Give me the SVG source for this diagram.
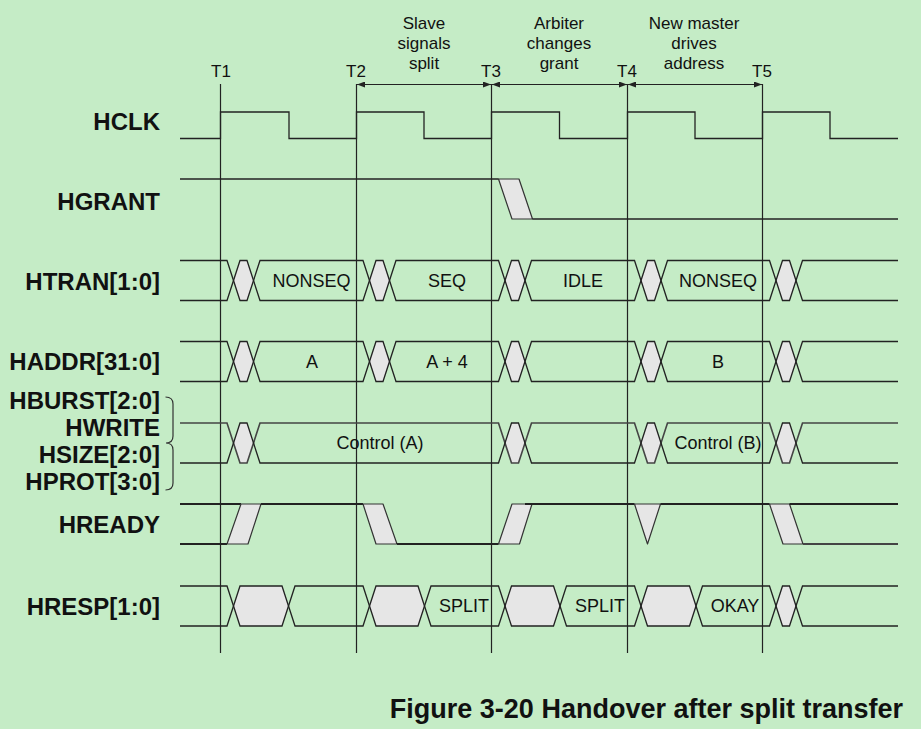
<svg xmlns="http://www.w3.org/2000/svg" width="921" height="729" viewBox="0 0 921 729">
<defs>
<marker id="ah" viewBox="0 0 8 6" refX="8" refY="3" markerWidth="8" markerHeight="6" markerUnits="userSpaceOnUse" orient="auto-start-reverse">
<path d="M0,0 L8,3 L0,6 Z" fill="#222"/>
</marker>
</defs>
<style>
.bg{fill:#C5ECC6}
.w{fill:none;stroke:#222;stroke-width:1.3;stroke-linejoin:miter}
.wr{fill:none;stroke:#222;stroke-width:2}
.g{fill:#E6E6E6;stroke:#333;stroke-width:1.2;stroke-linejoin:round}
.gn{fill:#E6E6E6;stroke:none}
.t{stroke:#222;stroke-width:1.2}
.lbl{font-family:"Liberation Sans",Arial,sans-serif;font-weight:bold;font-size:24px;fill:#111;text-anchor:end}
.val{font-family:"Liberation Sans",Arial,sans-serif;font-size:18px;fill:#111;text-anchor:middle}
.ann{font-family:"Liberation Sans",Arial,sans-serif;font-size:17px;fill:#111;text-anchor:middle}
.title{font-family:"Liberation Sans",Arial,sans-serif;font-weight:bold;font-size:27px;fill:#111;text-anchor:end}
</style>
<rect class="bg" x="0" y="0" width="921" height="729"/>

<g id="time-markers">
<line class="t" x1="220.5" y1="84" x2="220.5" y2="653"/>
<line class="t" x1="356.5" y1="84" x2="356.5" y2="653"/>
<line class="t" x1="491.5" y1="84" x2="491.5" y2="653"/>
<line class="t" x1="627.5" y1="84" x2="627.5" y2="653"/>
<line class="t" x1="762.5" y1="84" x2="762.5" y2="653"/>
<text class="ann" x="221" y="77">T1</text>
<text class="ann" x="356" y="77">T2</text>
<text class="ann" x="491" y="77">T3</text>
<text class="ann" x="627" y="77">T4</text>
<text class="ann" x="762" y="77">T5</text>
</g>

<g id="connectors">
<line class="t" x1="357" y1="84.5" x2="491" y2="84.5" marker-start="url(#ah)" marker-end="url(#ah)"/>
<line class="t" x1="492" y1="84.5" x2="627" y2="84.5" marker-start="url(#ah)" marker-end="url(#ah)"/>
<line class="t" x1="628" y1="84.5" x2="762" y2="84.5" marker-start="url(#ah)" marker-end="url(#ah)"/>
</g>

<g id="annotations">
<text class="ann" x="424" y="29">Slave</text>
<text class="ann" x="424" y="49">signals</text>
<text class="ann" x="424" y="69">split</text>
<text class="ann" x="559" y="29">Arbiter</text>
<text class="ann" x="559" y="49">changes</text>
<text class="ann" x="559" y="69">grant</text>
<text class="ann" x="694" y="29">New master</text>
<text class="ann" x="694" y="49">drives</text>
<text class="ann" x="694" y="69">address</text>
</g>

<g id="hclk">
<text class="lbl" x="160" y="129.5">HCLK</text>
<path class="w" d="M180,138.5 H220.5 V112 H289 V138.5 H356.5 V112 H424 V138.5 H491.5 V112 H559.5 V138.5 H627.5 V112 H695 V138.5 H762.5 V112 H830 V138.5 H898"/>
</g>

<g id="hgrant">
<text class="lbl" x="160" y="209.5">HGRANT</text>
<path class="w" d="M180,179 H498.5"/>
<polygon class="g" points="498.5,179 519,179 532.5,219 512,219"/>
<path class="w" d="M532.5,219 H898"/>
</g>

<g id="htran">
<text class="lbl" x="160" y="289.5">HTRAN[1:0]</text>
<polygon class="gn" points="233.5,280.5 240,260.5 247,260.5 253.5,280.5 247,300.5 240,300.5"/>
<polygon class="gn" points="369.5,280.5 376,260.5 383,260.5 389.5,280.5 383,300.5 376,300.5"/>
<polygon class="gn" points="505,280.5 511.5,260.5 518.5,260.5 525,280.5 518.5,300.5 511.5,300.5"/>
<polygon class="gn" points="641,280.5 647.5,260.5 654.5,260.5 661,280.5 654.5,300.5 647.5,300.5"/>
<polygon class="gn" points="776,280.5 782.5,260.5 789.5,260.5 796,280.5 789.5,300.5 782.5,300.5"/>
<path class="w" d="M180,260.5 H227 L240,300.5 H247 L260,260.5 H363 L376,300.5 H383 L396,260.5 H498.5 L511.5,300.5 H518.5 L531.5,260.5 H634.5 L647.5,300.5 H654.5 L667.5,260.5 H769.5 L782.5,300.5 H789.5 L802.5,260.5 H898"/>
<path class="w" d="M180,300.5 H227 L240,260.5 H247 L260,300.5 H363 L376,260.5 H383 L396,300.5 H498.5 L511.5,260.5 H518.5 L531.5,300.5 H634.5 L647.5,260.5 H654.5 L667.5,300.5 H769.5 L782.5,260.5 H789.5 L802.5,300.5 H898"/>
<text class="val" x="311.5" y="287">NONSEQ</text>
<text class="val" x="447" y="287">SEQ</text>
<text class="val" x="583" y="287">IDLE</text>
<text class="val" x="718" y="287">NONSEQ</text>
</g>

<g id="haddr">
<text class="lbl" x="160" y="370">HADDR[31:0]</text>
<polygon class="gn" points="233.5,361.5 240,341.5 247,341.5 253.5,361.5 247,381.5 240,381.5"/>
<polygon class="gn" points="369.5,361.5 376,341.5 383,341.5 389.5,361.5 383,381.5 376,381.5"/>
<polygon class="gn" points="505,361.5 511.5,341.5 518.5,341.5 525,361.5 518.5,381.5 511.5,381.5"/>
<polygon class="gn" points="641,361.5 647.5,341.5 654.5,341.5 661,361.5 654.5,381.5 647.5,381.5"/>
<polygon class="gn" points="776,361.5 782.5,341.5 789.5,341.5 796,361.5 789.5,381.5 782.5,381.5"/>
<path class="w" d="M180,341.5 H227 L240,381.5 H247 L260,341.5 H363 L376,381.5 H383 L396,341.5 H498.5 L511.5,381.5 H518.5 L531.5,341.5 H634.5 L647.5,381.5 H654.5 L667.5,341.5 H769.5 L782.5,381.5 H789.5 L802.5,341.5 H898"/>
<path class="w" d="M180,381.5 H227 L240,341.5 H247 L260,381.5 H363 L376,341.5 H383 L396,381.5 H498.5 L511.5,341.5 H518.5 L531.5,381.5 H634.5 L647.5,341.5 H654.5 L667.5,381.5 H769.5 L782.5,341.5 H789.5 L802.5,381.5 H898"/>
<text class="val" x="312" y="368">A</text>
<text class="val" x="447" y="368">A + 4</text>
<text class="val" x="718" y="368">B</text>
</g>

<g id="control">
<text class="lbl" x="160" y="409">HBURST[2:0]</text>
<text class="lbl" x="160" y="436">HWRITE</text>
<text class="lbl" x="160" y="463">HSIZE[2:0]</text>
<text class="lbl" x="160" y="490">HPROT[3:0]</text>
<path fill="none" stroke="#333" stroke-width="1.2" d="M165.5,397 Q173,397 173,404 L173,436 Q173,443 166,443 Q173,443 173,450 L173,483 Q173,490 165.5,490"/>
<polygon class="gn" points="233.5,443 240,423 247,423 253.5,443 247,463 240,463"/>
<polygon class="gn" points="505,443 511.5,423 518.5,423 525,443 518.5,463 511.5,463"/>
<polygon class="gn" points="641,443 647.5,423 654.5,423 661,443 654.5,463 647.5,463"/>
<polygon class="gn" points="776,443 782.5,423 789.5,423 796,443 789.5,463 782.5,463"/>
<path fill="none" stroke="#444" stroke-width="1.6" d="M180,423 H227 L240,463 H247 L260,423 H498.5 L511.5,463 H518.5 L531.5,423 H634.5 L647.5,463 H654.5 L667.5,423 H769.5 L782.5,463 H789.5 L802.5,423 H898"/>
<path class="w" d="M180,463 H227 L240,423 H247 L260,463 H498.5 L511.5,423 H518.5 L531.5,463 H634.5 L647.5,423 H654.5 L667.5,463 H769.5 L782.5,423 H789.5 L802.5,463 H898"/>
<text class="val" x="380" y="449">Control (A)</text>
<text class="val" x="718" y="449">Control (B)</text>
</g>

<g id="hready">
<text class="lbl" x="160" y="533">HREADY</text>
<path class="wr" d="M180,504 H241"/>
<path class="wr" d="M180,544 H227"/>
<polygon class="g" points="227,544 248,544 261,504 241,504"/>
<path class="wr" d="M261,504 H363"/>
<polygon class="g" points="363,504 383,504 397,544 376,544"/>
<path class="wr" d="M397,544 H498.5"/>
<polygon class="g" points="498.5,544 519.5,544 532,504 512,504"/>
<path class="wr" d="M525,504 H634.5"/>
<polygon class="g" points="634.5,504 647.5,544 660.5,504"/>
<path class="wr" d="M660.5,504 H769.5"/>
<polygon class="g" points="769.5,504 789.5,504 803,544 783,544"/>
<path class="wr" d="M789.5,504 H898"/>
<path fill="none" stroke="#444" stroke-width="2" d="M803,544 H898"/>
</g>

<g id="hresp">
<text class="lbl" x="160" y="615">HRESP[1:0]</text>
<polygon class="gn" points="233.5,606 240,586 282,586 288.5,606 282,626 240,626"/>
<polygon class="gn" points="369.5,606 376,586 418,586 424.5,606 418,626 376,626"/>
<polygon class="gn" points="505,606 511.5,586 553.5,586 560,606 553.5,626 511.5,626"/>
<polygon class="gn" points="641,606 647.5,586 689.5,586 696,606 689.5,626 647.5,626"/>
<polygon class="gn" points="776,606 782.5,586 789.5,586 796,606 789.5,626 782.5,626"/>
<path class="w" d="M180,586 H227 L240,626 H282 L295,586 H363 L376,626 H418 L431,586 H498.5 L511.5,626 H553.5 L566.5,586 H634.5 L647.5,626 H689.5 L702.5,586 H769.5 L782.5,626 H789.5 L802.5,586 H898"/>
<path class="w" d="M180,626 H227 L240,586 H282 L295,626 H363 L376,586 H418 L431,626 H498.5 L511.5,586 H553.5 L566.5,626 H634.5 L647.5,586 H689.5 L702.5,626 H769.5 L782.5,586 H789.5 L802.5,626 H898"/>
<text class="val" x="464" y="612">SPLIT</text>
<text class="val" x="600" y="612">SPLIT</text>
<text class="val" x="735" y="612">OKAY</text>
</g>

<text class="title" x="903" y="718">Figure 3-20 Handover after split transfer</text>
</svg>
